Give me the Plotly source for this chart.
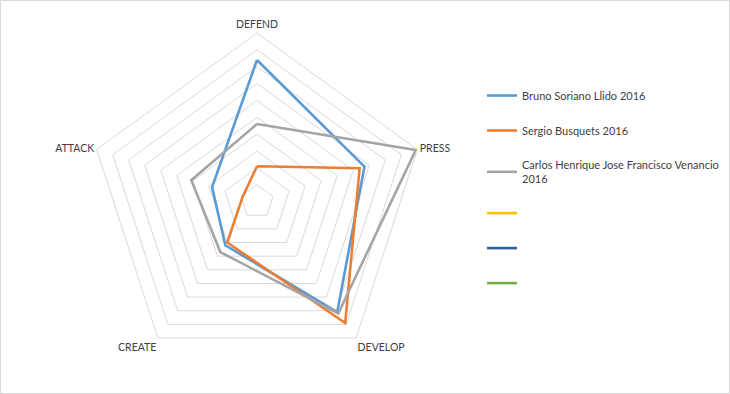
import plotly.graph_objects as go

categories = ["DEFEND", "PRESS", "DEVELOP", "CREATE", "ATTACK"]
bruno = [8.4, 6.7, 8.1, 3.2, 2.8]
sergio = [2.1, 6.4, 8.9, 3.0, 0.9]
carlos = [4.6, 9.9, 8.2, 3.7, 4.1]

series_names = [
    "Bruno Soriano Llido 2016",
    "Sergio Busquets 2016",
    "Carlos Henrique Jose Francisco Venancio<br>2016",
    " ", "  ", "   ",
]
series_values = [bruno, sergio, carlos, None, None, None]
colors = ["#5B9BD5", "#ED7D31", "#A5A5A5", "#FFC000", "#2B5C9E", "#70AD47"]

W, H = 730, 394
cx, cy, R = 257, 201.6, 168.6

fig = go.Figure()
for i, (name, vals, col) in enumerate(zip(series_names, series_values, colors)):
    if vals is None:
        r = [None] * (len(categories) + 1)
    else:
        r = vals + [vals[0]]
    fig.add_trace(go.Scatterpolar(
        r=r, theta=categories + [categories[0]], mode="lines", name=name,
        line=dict(color=col, width=2.6), legendgroup=f"g{i}",
        showlegend=True, hoverinfo="skip",
    ))

fig.update_layout(
    width=W, height=H,
    margin=dict(l=0, r=0, t=0, b=0),
    paper_bgcolor="white", plot_bgcolor="white",
    font=dict(family="Lato, Carlito, sans-serif", size=10, color="#404040"),
    polar=dict(
        domain=dict(x=[(cx - R) / W, (cx + R) / W],
                    y=[(H - (cy + R)) / H, (H - (cy - R)) / H]),
        gridshape="linear",
        bgcolor="white",
        radialaxis=dict(range=[0, 10], dtick=1, showticklabels=False, ticks="",
                        showline=False, gridcolor="#D9D9D9", gridwidth=1),
        angularaxis=dict(rotation=90, direction="clockwise", showgrid=False,
                         showline=True, linecolor="#D9D9D9", linewidth=1,
                         ticks="", tickfont=dict(size=10.5, color="#404040")),
    ),
    legend=dict(x=482 / W, y=1 - 81 / H, xanchor="left", yanchor="top",
                tracegroupgap=16, itemwidth=30, bgcolor="rgba(0,0,0,0)",
                font=dict(size=11, color="#404040")),
    showlegend=True,
    shapes=[dict(type="rect", xref="paper", yref="paper", x0=0.0007, y0=0.0013,
                 x1=0.9993, y1=0.9987, line=dict(color="#D9D9D9", width=1))],
)

fig.write_html(
    "out.html",
    config={"displayModeBar": False},
    post_script="document.body.style.margin='0';document.body.style.overflow='hidden';",
)
